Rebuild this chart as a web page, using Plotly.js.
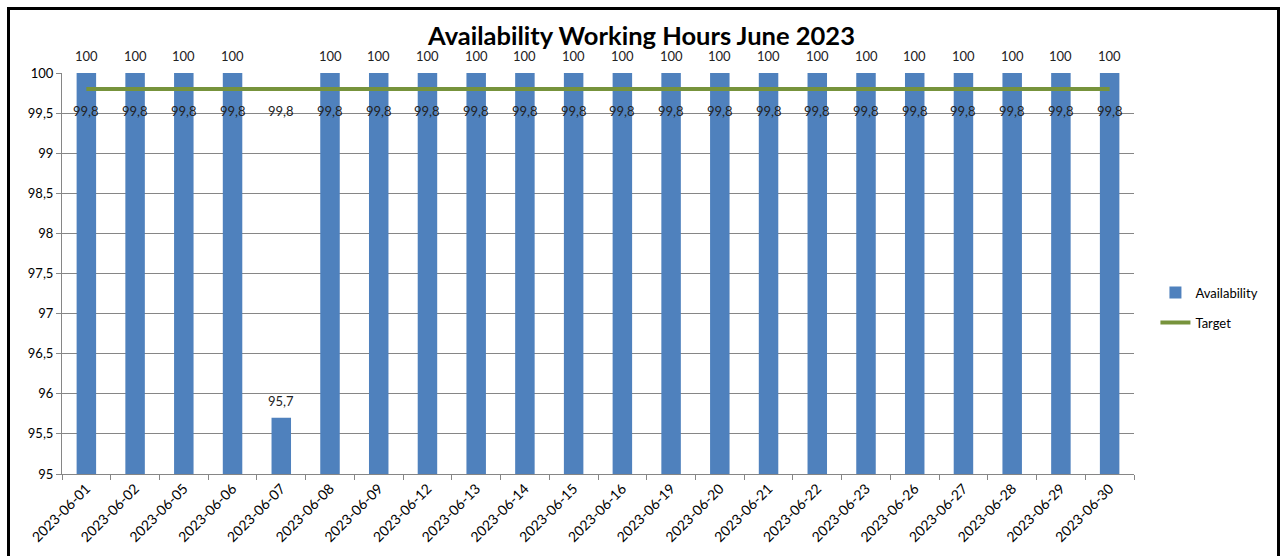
<!DOCTYPE html>
<html><head><meta charset="utf-8">
<script src="https://cdn.plot.ly/plotly-3.0.1.min.js"></script>
<style>
html,body{margin:0;padding:0;background:#fff;overflow:hidden;}
#frame{position:absolute;left:7px;top:7px;width:1267px;height:580px;border:3px solid #000;pointer-events:none;z-index:5;}
#chart{position:absolute;left:0;top:0;width:1283px;height:556px;}
</style></head>
<body>
<div id="chart"></div>
<div id="frame"></div>
<script>
const dates = ["2023-06-01","2023-06-02","2023-06-05","2023-06-06","2023-06-07","2023-06-08","2023-06-09","2023-06-12","2023-06-13","2023-06-14","2023-06-15","2023-06-16","2023-06-19","2023-06-20","2023-06-21","2023-06-22","2023-06-23","2023-06-26","2023-06-27","2023-06-28","2023-06-29","2023-06-30"];
const availability = [100,100,100,100,95.7,100,100,100,100,100,100,100,100,100,100,100,100,100,100,100,100,100];
const target = [99.8,99.8,99.8,99.8,99.8,99.8,99.8,99.8,99.8,99.8,99.8,99.8,99.8,99.8,99.8,99.8,99.8,99.8,99.8,99.8,99.8,99.8];
const yTicks = [95,95.5,96,96.5,97,97.5,98,98.5,99,99.5,100];

const fmt = v => String(v).replace('.', ',');
const font = "Lato, 'Open Sans', sans-serif";

const traces = [
  {type:'bar', name:'Availability', x:dates, y:availability, legendgroup:'a',
   marker:{color:'#4F81BD'}, cliponaxis:false},
  {type:'scatter', mode:'lines', name:'Target', x:dates, y:target, legendgroup:'b',
   line:{color:'#77933C', width:4}, cliponaxis:false}
];

const barLabels = dates.map((d,i) => ({
  x:d, y:availability[i], xref:'x', yref:'y', text:fmt(availability[i]), showarrow:false,
  yanchor:'middle', yshift:17, font:{family:font,size:13,color:'#222'}
}));
const targetLabels = dates.map((d,i) => ({
  x:d, y:target[i], xref:'x', yref:'y', text:fmt(target[i]), showarrow:false,
  yshift:-22, font:{family:font,size:13,color:'#222'}
}));

const layout = {
  width:1283, height:556,
  margin:{l:62, r:149, t:73, b:82},
  paper_bgcolor:'#fff', plot_bgcolor:'#fff',
  separators:',.',
  title:{text:'<b>Availability Working Hours June 2023</b>', x:0.5, xanchor:'center', y:0.935, yanchor:'middle',
         font:{family:font, size:25.5, color:'#000'}},
  bargap:0.6,
  showlegend:true,
  annotations:barLabels.concat(targetLabels),
  legend:{x:1.02, xanchor:'left', y:0.415, yanchor:'middle', font:{family:font,size:13,color:'#000'},
          bgcolor:'rgba(0,0,0,0)', tracegroupgap:10, itemwidth:30},
  xaxis:{type:'category', range:[-0.5, dates.length-0.5], autorange:false, tickangle:-45, ticks:'outside', tickson:'boundaries', ticklen:5,
         tickcolor:'#868686', showline:true, linecolor:'#868686', linewidth:1, showgrid:false,
         tickfont:{family:font,size:14,color:'#000'}},
  yaxis:{range:[95,100], autorange:false, tickvals:yTicks, ticktext:yTicks.map(fmt), ticks:'outside', ticklen:5,
         tickcolor:'#868686', showline:true, linecolor:'#868686', linewidth:1,
         showgrid:true, gridcolor:'#868686', gridwidth:1, zeroline:false,
         tickfont:{family:font,size:13,color:'#000'}}
};

Plotly.newPlot('chart', traces, layout, {displayModeBar:false, staticPlot:true});
</script>
</body></html>
